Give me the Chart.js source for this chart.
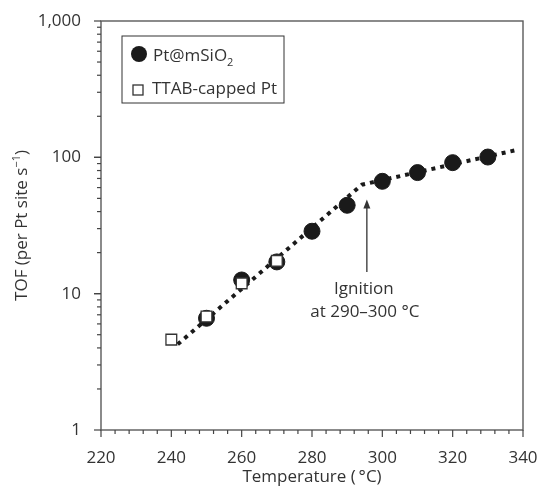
<!DOCTYPE html>
<html>
<head>
<meta charset="utf-8">
<script src="https://cdn.jsdelivr.net/npm/chart.js@4/dist/chart.umd.min.js"></script>
<style>
  body { margin: 0; background: #fff; }
</style>
</head>
<body>
<canvas id="tof-chart" width="541" height="487"></canvas>
<script>
const FONT = '"Open Sans", "DejaVu Sans", sans-serif';

// Pt@mSiO2 (filled circles)
const ptTemps = [250, 260, 270, 280, 290, 300, 310, 320, 330];
const ptTof = [6.6, 12.6, 17.1, 28.7, 44.5, 66.7, 77.3, 91.4, 100.5];

// TTAB-capped Pt (open squares)
const ttabTemps = [240, 250, 260, 270];
const ttabTof = [4.6, 6.8, 11.9, 17.4];

// dotted guide lines, bending at the ignition point
const fitTemps = [241.8, 294.2, 338];
const fitTof = [4.25, 63, 113];

const xTicks = [220, 240, 260, 280, 300, 320, 340];
const yTicks = [1, 10, 100, 1000];

// ignition arrow (data coords)
const arrowTemp = 295.6;
const arrowFrom = 14.4;
const arrowTo = 49;

const toPoints = (xs, ys) => xs.map((x, i) => ({ x: x, y: ys[i] }));

const framePlugin = {
    id: 'frame',
    afterDraw(chart) {
        const ctx = chart.ctx;
        const area = chart.chartArea;
        const xs = chart.scales.x;
        const ys = chart.scales.y;
        ctx.save();

        // box
        ctx.strokeStyle = '#5a5a5a';
        ctx.lineWidth = 1.4;
        ctx.strokeRect(area.left, area.top, area.right - area.left, area.bottom - area.top);

        // x ticks (major every 20, minor every 4)
        ctx.strokeStyle = '#444';
        ctx.lineWidth = 1.2;
        for (let t = xs.min; t <= xs.max + 0.01; t += 4) {
            const px = xs.getPixelForValue(t);
            const len = (t % 20 === 0) ? 7 : 4;
            ctx.beginPath();
            ctx.moveTo(px, area.bottom);
            ctx.lineTo(px, area.bottom + len);
            ctx.stroke();
        }
        // y ticks (decades + 2..9)
        for (let d = 1; d < ys.max; d *= 10) {
            for (let m = 1; m <= 10; m++) {
                const v = d * m;
                if (v > ys.max) break;
                const py = ys.getPixelForValue(v);
                const len = (m === 1 || m === 10) ? 7 : 4;
                ctx.beginPath();
                ctx.moveTo(area.left, py);
                ctx.lineTo(area.left - len, py);
                ctx.stroke();
            }
        }

        // axis titles
        ctx.fillStyle = '#333';
        ctx.font = '17px ' + FONT;
        ctx.textAlign = 'center';
        ctx.textBaseline = 'alphabetic';
        ctx.fillText('Temperature (\u2009\u00B0C)', (area.left + area.right) / 2, 482);

        ctx.save();
        ctx.translate(27, (area.top + area.bottom) / 2);
        ctx.rotate(-Math.PI / 2);
        const main = 'TOF (per Pt site s';
        ctx.font = '17px ' + FONT;
        const w1 = ctx.measureText(main).width;
        ctx.font = '11px ' + FONT;
        const w2 = ctx.measureText('\u22121').width;
        ctx.font = '17px ' + FONT;
        const w3 = ctx.measureText(')').width;
        let sx = -(w1 + w2 + w3) / 2;
        ctx.textAlign = 'left';
        ctx.fillText(main, sx, 0);
        ctx.font = '11px ' + FONT;
        ctx.fillText('\u22121', sx + w1, -7);
        ctx.font = '17px ' + FONT;
        ctx.fillText(')', sx + w1 + w2, 0);
        ctx.restore();

        // ignition arrow + text
        const ax = xs.getPixelForValue(arrowTemp);
        const ay0 = ys.getPixelForValue(arrowFrom);
        const ay1 = ys.getPixelForValue(arrowTo);
        ctx.strokeStyle = '#333';
        ctx.fillStyle = '#333';
        ctx.lineWidth = 1.3;
        ctx.beginPath();
        ctx.moveTo(ax, ay0);
        ctx.lineTo(ax, ay1 + 6);
        ctx.stroke();
        ctx.beginPath();
        ctx.moveTo(ax, ay1);
        ctx.lineTo(ax - 3.5, ay1 + 9);
        ctx.lineTo(ax + 3.5, ay1 + 9);
        ctx.closePath();
        ctx.fill();
        ctx.font = '17px ' + FONT;
        ctx.textAlign = 'center';
        ctx.fillText('Ignition', ax - 3, ay0 + 22);
        ctx.fillText('at 290\u2013300 \u00B0C', ax - 2, ay0 + 45);

        // legend
        const lx = area.left + 21;
        const ly = area.top + 15;
        ctx.strokeStyle = '#333';
        ctx.lineWidth = 1;
        ctx.strokeRect(lx, ly, 162, 67);

        ctx.fillStyle = '#1a1a1a';
        ctx.beginPath();
        ctx.arc(lx + 17, ly + 18, 8, 0, Math.PI * 2);
        ctx.fill();
        ctx.fillStyle = '#333';
        ctx.textAlign = 'left';
        ctx.font = '17px ' + FONT;
        ctx.fillText('Pt@mSiO', lx + 31, ly + 25);
        const wp = ctx.measureText('Pt@mSiO').width;
        ctx.font = '11px ' + FONT;
        ctx.fillText('2', lx + 31 + wp, ly + 30);

        ctx.strokeStyle = '#333';
        ctx.lineWidth = 1.3;
        ctx.fillStyle = '#fff';
        ctx.fillRect(lx + 11, ly + 49, 10, 10);
        ctx.strokeRect(lx + 11, ly + 49, 10, 10);
        ctx.fillStyle = '#333';
        ctx.font = '17px ' + FONT;
        ctx.fillText('TTAB-capped Pt', lx + 30, ly + 58);

        ctx.restore();
    }
};

new Chart(document.getElementById('tof-chart'), {
    type: 'scatter',
    data: {
        datasets: [
            {
                label: 'fit',
                data: toPoints(fitTemps, fitTof),
                showLine: true,
                tension: 0,
                borderColor: '#1a1a1a',
                borderWidth: 4,
                borderDash: [4, 5],
                borderCapStyle: 'butt',
                pointRadius: 0,
                fill: false,
                order: 3
            },
            {
                label: 'Pt@mSiO2',
                data: toPoints(ptTemps, ptTof),
                pointStyle: 'circle',
                pointRadius: 8,
                pointBorderWidth: 1,
                backgroundColor: '#1a1a1a',
                borderColor: '#1a1a1a',
                order: 2
            },
            {
                label: 'TTAB-capped Pt',
                data: toPoints(ttabTemps, ttabTof),
                pointStyle: 'rect',
                pointRadius: 7.6,
                pointBorderWidth: 1.3,
                backgroundColor: '#fff',
                borderColor: '#333',
                order: 1
            }
        ]
    },
    options: {
        responsive: false,
        animation: false,
        layout: { padding: { left: 0, top: 21, right: 18, bottom: 0 } },
        plugins: {
            legend: { display: false },
            tooltip: { enabled: false }
        },
        scales: {
            x: {
                type: 'linear',
                min: 220,
                max: 340,
                afterBuildTicks: scale => {
                    scale.ticks = xTicks.map(v => ({ value: v }));
                },
                afterFit: scale => {
                    scale.height = 57;
                    scale.paddingLeft = 0;
                    scale.paddingRight = 0;
                },
                grid: { display: false },
                border: { display: false },
                ticks: {
                    color: '#333',
                    padding: 10,
                    maxRotation: 0,
                    font: { family: FONT, size: 17 }
                }
            },
            y: {
                type: 'logarithmic',
                min: 1,
                max: 1000,
                afterBuildTicks: scale => {
                    scale.ticks = yTicks.map(v => ({ value: v }));
                },
                afterFit: scale => {
                    scale.width = 101;
                    scale.paddingTop = 0;
                    scale.paddingBottom = 0;
                },
                grid: { display: false },
                border: { display: false },
                ticks: {
                    color: '#333',
                    padding: 12,
                    font: { family: FONT, size: 17 },
                    callback: v => v.toLocaleString('en-US')
                }
            }
        }
    },
    plugins: [framePlugin]
});
</script>
</body>
</html>
